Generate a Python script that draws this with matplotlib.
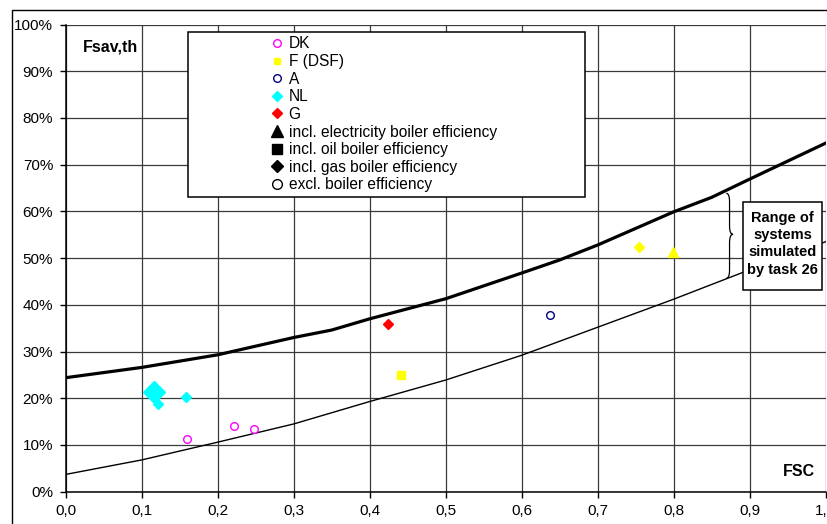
import matplotlib
matplotlib.use("Agg")
import matplotlib.pyplot as plt
from matplotlib.lines import Line2D
from matplotlib.patches import Rectangle, PathPatch
from matplotlib.path import Path

plt.rcParams['font.family'] = ['Liberation Sans', 'DejaVu Sans']

# upper / lower limit curves of the simulated systems
upper_fsc = [0.0, 0.1, 0.2, 0.3, 0.35, 0.4, 0.5, 0.6, 0.65, 0.7, 0.8, 0.85, 0.9, 1.0]
upper_fsav = [24.4, 26.6, 29.3, 33.0, 34.6, 37.0, 41.3, 46.8, 49.6, 52.8, 59.9, 63.0, 66.9, 74.6]
lower_fsc = [0.0, 0.1, 0.2, 0.3, 0.4, 0.5, 0.6, 0.7, 0.8, 0.9, 1.0]
lower_fsav = [3.7, 6.8, 10.6, 14.5, 19.3, 23.9, 29.2, 35.2, 41.2, 47.5, 53.5]

# measured systems
dk_fsc = [0.159, 0.222, 0.2475]
dk_fsav = [11.2, 14.1, 13.5]
f_sq_fsc, f_sq_fsav = [0.441], [25.0]
f_di_fsc, f_di_fsav = [0.7548], [52.4]
f_tri_fsc, f_tri_fsav = [0.7986], [51.4]
a_fsc, a_fsav = [0.6376], [37.8]
nl_fsc = [0.1219, 0.1584]
nl_fsav = [18.8, 20.3]
nl_big_fsc, nl_big_fsav = [0.1164], [21.3]
g_fsc, g_fsav = [0.4247], [35.8]

xticks = [i / 10 for i in range(11)]
xlabels = ['0,0', '0,1', '0,2', '0,3', '0,4', '0,5', '0,6', '0,7', '0,8', '0,9', '1,0']
yticks = list(range(0, 101, 10))
ylabels = [f'{v}%' for v in yticks]

W, H = 827, 524
fig = plt.figure(figsize=(W / 100, H / 100), dpi=100)
ax = fig.add_axes([65.7 / W, 32.3 / H, 759.9 / W, 467.2 / H])

# outer chart border (cut off on the right and bottom)
fig.patches.append(Rectangle((12 / W, -0.2), 2, (H - 10) / H + 0.2, transform=fig.transFigure,
                             fill=False, ec='black', lw=1.0))

ax.plot(upper_fsc, upper_fsav, color='black', lw=2.3, zorder=3)
ax.plot(lower_fsc, lower_fsav, color='black', lw=1.0, zorder=3)

ax.plot(dk_fsc, dk_fsav, ls='none', marker='o', ms=5.5, mfc='white', mec='#FF00FF', mew=1.0, zorder=4)
ax.plot(f_sq_fsc, f_sq_fsav, ls='none', marker='s', ms=6, color='#FFFF00', zorder=4)
ax.plot(f_di_fsc, f_di_fsav, ls='none', marker='D', ms=5, color='#FFFF00', zorder=4)
ax.plot(f_tri_fsc, f_tri_fsav, ls='none', marker='^', ms=7, color='#FFFF00', zorder=4)
ax.plot(a_fsc, a_fsav, ls='none', marker='o', ms=5.5, mfc='white', mec='#000080', mew=1.0, zorder=4)
ax.plot(nl_fsc, nl_fsav, ls='none', marker='D', ms=5, color='#00FFFF', zorder=4)
ax.plot(nl_big_fsc, nl_big_fsav, ls='none', marker='D', ms=11, color='#00FFFF', zorder=4)
ax.plot(g_fsc, g_fsav, ls='none', marker='D', ms=5, color='#FF0000', zorder=4)

ax.set_xlim(0, 1.0)
ax.set_ylim(0, 100)
ax.set_xticks(xticks)
ax.set_xticklabels(xlabels, fontsize=11)
ax.set_yticks(yticks)
ax.set_yticklabels(ylabels, fontsize=11)
ax.tick_params(direction='out', length=4, width=1, color='black', pad=5)
ax.grid(True, color='#3a3a3a', lw=0.9)
ax.set_axisbelow(True)
for s in ['top', 'right']:
    ax.spines[s].set_visible(False)
for s in ['left', 'bottom']:
    ax.spines[s].set_linewidth(1.1)

ax.text(83 / W, 1 - 46.7 / H, 'Fsav,th', transform=fig.transFigure, fontsize=11.5,
        fontweight='bold', va='center', ha='left')
ax.text(815 / W, 1 - 471.7 / H, 'FSC', transform=fig.transFigure, fontsize=11.5,
        fontweight='bold', va='center', ha='right')

# legend box
ax.add_patch(Rectangle((0.1613, 0.6308), 0.6834 - 0.1613, 0.9846 - 0.6308, transform=ax.transAxes,
                       fc='white', ec='black', lw=1.1, zorder=5))
handles = [
    Line2D([], [], ls='none', marker='o', ms=5.5, mfc='white', mec='#FF00FF', mew=1.0),
    Line2D([], [], ls='none', marker='s', ms=5, color='#FFFF00'),
    Line2D([], [], ls='none', marker='o', ms=5.5, mfc='white', mec='#000080', mew=1.0),
    Line2D([], [], ls='none', marker='D', ms=5, color='#00FFFF'),
    Line2D([], [], ls='none', marker='D', ms=5, color='#FF0000'),
    Line2D([], [], ls='none', marker='^', ms=8, color='black'),
    Line2D([], [], ls='none', marker='s', ms=7, color='black'),
    Line2D([], [], ls='none', marker='D', ms=6, color='black'),
    Line2D([], [], ls='none', marker='o', ms=7, mfc='white', mec='black', mew=1.0),
]
labels = ['DK', 'F (DSF)', 'A', 'NL', 'G', 'incl. electricity boiler efficiency',
          'incl. oil boiler efficiency', 'incl. gas boiler efficiency', 'excl. boiler efficiency']
leg = ax.legend(handles, labels, loc='upper left', bbox_to_anchor=(271.5 / W, 1 - 36.3 / H),
                bbox_transform=fig.transFigure, frameon=False, fontsize=11.2, borderpad=0,
                borderaxespad=0, handlelength=0.75, handletextpad=0.35, labelspacing=0.17)
leg.set_zorder(6)

# brace and annotation box
xa, xb, xc = 0.8693, 0.8736, 0.8781
yt, ym, yb = 63.87, 55.09, 45.68
d = 1.8
verts = [(xa, yt), (xb, yt), (xb, yt - d), (xb, ym + d), (xb, ym), (xc, ym),
         (xb, ym), (xb, ym - d), (xb, yb + d), (xb, yb), (xa, yb)]
codes = [Path.MOVETO, Path.CURVE3, Path.CURVE3, Path.LINETO, Path.CURVE3, Path.CURVE3,
         Path.CURVE3, Path.CURVE3, Path.LINETO, Path.CURVE3, Path.CURVE3]
ax.add_patch(PathPatch(Path(verts, codes), fill=False, ec='black', lw=0.9, zorder=5))

ax.add_patch(Rectangle((0.8913, 0.4317), 0.9953 - 0.8913, 0.620 - 0.4317, transform=ax.transAxes,
                       fc='white', ec='black', lw=1.1, zorder=5))
ax.text(0.9433, 0.531, 'Range of\nsystems\nsimulated\nby task 26', transform=ax.transAxes,
        ha='center', va='center', fontsize=10.5, fontweight='bold', linespacing=1.3, zorder=6)

fig.savefig('out.png', dpi=100)
